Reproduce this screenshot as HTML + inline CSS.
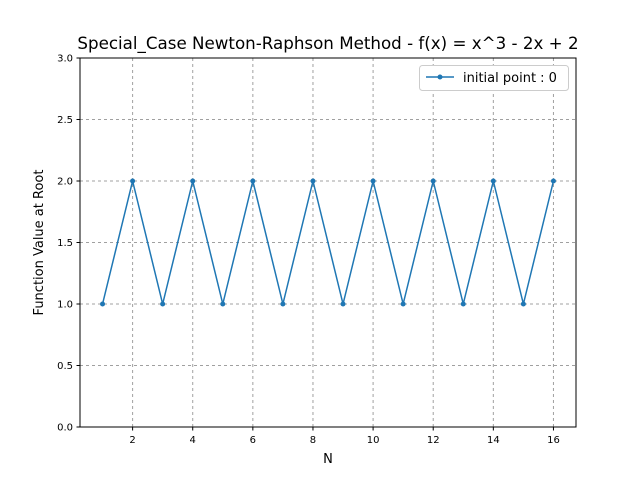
<!DOCTYPE html>
<html><head><meta charset="utf-8"><style>
body{margin:0;background:#fff}
text{font-family:"DejaVu Sans","Liberation Sans",sans-serif}
</style></head><body>
<svg id="chart" width="640" height="480" xmlns="http://www.w3.org/2000/svg">
<rect width="640" height="480" fill="#fff"/>
<text x="328" y="49" font-size="16.7" text-anchor="middle">Special_Case Newton-Raphson Method - f(x) = x^3 - 2x + 2</text>
<g id="grid"></g>
<g id="ticks"></g>
<rect x="80" y="58" width="496" height="369" fill="none" stroke="#000" stroke-width="1"/>
<g id="series"></g>
<text x="328" y="463" font-size="13" text-anchor="middle">N</text>
<text x="43" y="242.5" font-size="13" text-anchor="middle" transform="rotate(-90 43 242.5)">Function Value at Root</text>
<g>
<rect x="419.5" y="65.5" width="149" height="25" rx="3" fill="#fff" stroke="#ccc"/>
<line x1="426" y1="77" x2="454" y2="77" stroke="#1f77b4" stroke-width="1.5"/>
<circle cx="440" cy="77" r="2.5" fill="#1f77b4"/>
<text x="463" y="82" font-size="13">initial point : 0</text>
</g>
</svg>
<script>
const xValues=[1,2,3,4,5,6,7,8,9,10,11,12,13,14,15,16];
const yValues=[1,2,1,2,1,2,1,2,1,2,1,2,1,2,1,2];
const xTicks=[2,4,6,8,10,12,14,16];
const yTicks=[0,0.5,1,1.5,2,2.5,3];
const yTickLabels=["0.0","0.5","1.0","1.5","2.0","2.5","3.0"];
const NS="http://www.w3.org/2000/svg";
const L=80,R=576,T=58,B=427;
const xmin=0.25,xmax=16.75,ymin=0,ymax=3;
const sx=v=>L+(v-xmin)/(xmax-xmin)*(R-L);
const sy=v=>B-(v-ymin)/(ymax-ymin)*(B-T);
function mk(tag,attrs,parent){const e=document.createElementNS(NS,tag);for(const k in attrs)e.setAttribute(k,attrs[k]);document.getElementById(parent).appendChild(e);return e;}
xTicks.forEach(v=>{const x=sx(v);
 let g=mk('line',{x1:x,x2:x,y1:T,y2:B,stroke:'#a0a0a0','stroke-dasharray':'3,3','stroke-width':1},'grid');
 
 
 let t=mk('line',{x1:x,x2:x,y1:B,y2:B+3.5,stroke:'#000'},'ticks');
 
 
 let l=mk('text',{x:x,y:B+16,'font-size':10,'text-anchor':'middle'},'ticks');l.textContent=v;
 
 
});
yTicks.forEach((v,i)=>{const y=sy(v);
 let g=mk('line',{x1:L,x2:R,y1:y,y2:y,stroke:'#a0a0a0','stroke-dasharray':'3,3','stroke-width':1},'grid');
 
 
 let t=mk('line',{x1:L-3.5,x2:L,y1:y,y2:y,stroke:'#000'},'ticks');
 
 
 let l=mk('text',{x:L-7,y:y+3.5,'font-size':10,'text-anchor':'end'},'ticks');l.textContent=yTickLabels[i];
 
 
});
const pts=xValues.map((x,i)=>sx(x)+','+sy(yValues[i])).join(' ');
let pl=mk('polyline',{points:pts,fill:'none',stroke:'#1f77b4','stroke-width':1.5},'series');


xValues.forEach((x,i)=>{let c=mk('circle',{cx:sx(x),cy:sy(yValues[i]),r:2.5,fill:'#1f77b4'},'series');
 
 
});
</script>
</body></html>
